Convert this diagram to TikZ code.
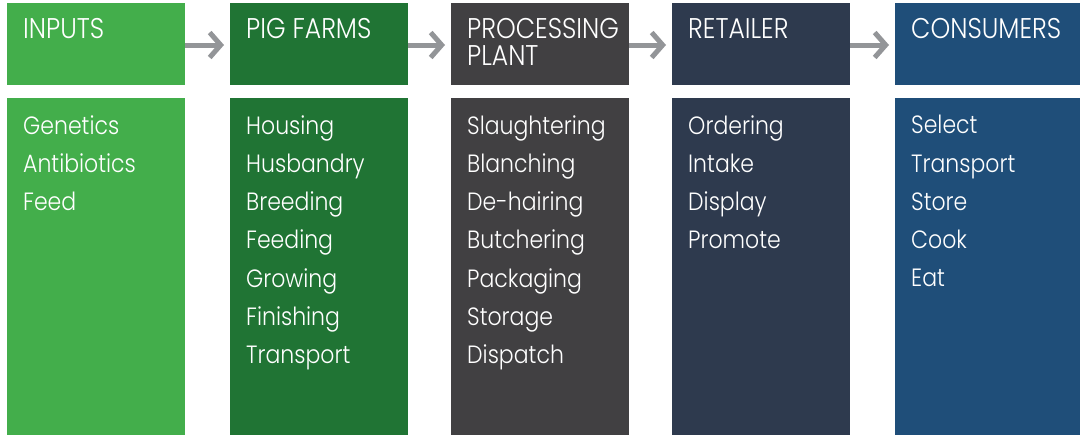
\documentclass[tikz,border=0pt]{standalone}
\usepackage{fontspec}
\setmainfont{Poppins Light}[FakeStretch=0.88]
\usetikzlibrary{arrows.meta}
\definecolor{cInputs}{HTML}{43AE4B}
\definecolor{cFarms}{HTML}{207434}
\definecolor{cPlant}{HTML}{414042}
\definecolor{cRetail}{HTML}{2E3A4E}
\definecolor{cCons}{HTML}{1F4E79}
\definecolor{cArrow}{HTML}{939598}
\tikzset{
  hdr/.style={rectangle, inner sep=0pt, minimum height=82pt, anchor=north west},
  bodybox/.style={rectangle, inner sep=0pt, minimum height=337pt, anchor=north west},
  hdrtext/.style={anchor=north west, inner sep=0pt, text=white, align=left,
    font=\fontsize{28.5}{27}\selectfont},
  bodytext/.style={anchor=north west, inner sep=0pt, text=white, align=left,
    font=\fontsize{25}{38.3}\selectfont},
  flow/.style={draw=cArrow, line width=5pt, -{Straight Barb[length=11pt,width=25pt,line width=5pt]},
    shorten <=0pt, shorten >=6pt}
}
\begin{document}
\begin{tikzpicture}[x=1pt,y=-1pt]
\useasboundingbox (0,0) rectangle (1080,437);
% header boxes
\node[hdr, fill=cInputs, minimum width=178pt] (h1) at (7,3) {};
\node[hdr, fill=cFarms, minimum width=178pt] (h2) at (230,3) {};
\node[hdr, fill=cPlant, minimum width=178pt] (h3) at (451,3) {};
\node[hdr, fill=cRetail, minimum width=178pt] (h4) at (672,3) {};
\node[hdr, fill=cCons, minimum width=185pt] (h5) at (895,3) {};
% body boxes
\node[bodybox, fill=cInputs, minimum width=178pt] (b1) at (7,98) {};
\node[bodybox, fill=cFarms, minimum width=178pt] (b2) at (230,98) {};
\node[bodybox, fill=cPlant, minimum width=178pt] (b3) at (451,98) {};
\node[bodybox, fill=cRetail, minimum width=178pt] (b4) at (672,98) {};
\node[bodybox, fill=cCons, minimum width=185pt] (b5) at (895,98) {};
% header texts
\node[hdrtext] (t1) at (23,18.5) {INPUTS};
\node[hdrtext] (t2) at (246,18.5) {PIG FARMS};
\node[hdrtext] (t3) at (467,18.5) {PROCESSING\\PLANT};
\node[hdrtext] (t4) at (688,18.5) {RETAILER};
\node[hdrtext] (t5) at (911,18.5) {CONSUMERS};
% body texts
\node[bodytext] (l1) at (23,115) {Genetics\\Antibiotics\\Feed};
\node[bodytext] (l2) at (246,115) {Housing\\Husbandry\\Breeding\\Feeding\\Growing\\Finishing\\Transport};
\node[bodytext] (l3) at (467,115) {Slaughtering\\Blanching\\De-hairing\\Butchering\\Packaging\\Storage\\Dispatch};
\node[bodytext] (l4) at (688,115) {Ordering\\Intake\\Display\\Promote};
\node[bodytext] (l5) at (911,115) {Select\\Transport\\Store\\Cook\\Eat};
% arrows
\draw[flow] (h1.east |- 0,45) -- (h2.west |- 0,45);
\draw[flow] (h2.east |- 0,45) -- (h3.west |- 0,45);
\draw[flow] (h3.east |- 0,45) -- (h4.west |- 0,45);
\draw[flow] (h4.east |- 0,45) -- (h5.west |- 0,45);
\end{tikzpicture}
\end{document}
